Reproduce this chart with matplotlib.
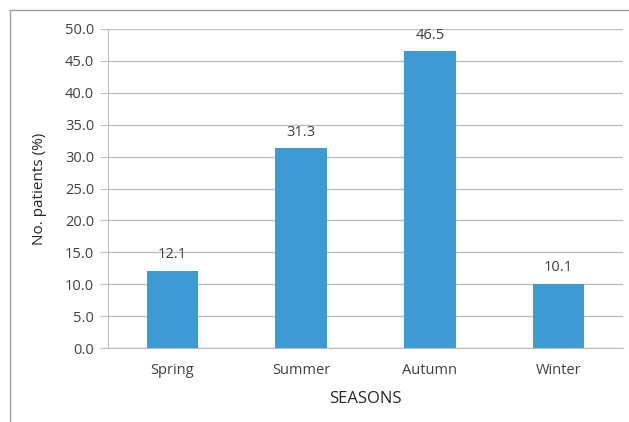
import matplotlib.pyplot as plt
from matplotlib.lines import Line2D

seasons = ['Spring', 'Summer', 'Autumn', 'Winter']
patients = [12.1, 31.3, 46.5, 10.1]
yticks = [0, 5, 10, 15, 20, 25, 30, 35, 40, 45, 50]

plt.rcParams['font.family'] = ['Open Sans', 'DejaVu Sans']

fig = plt.figure(figsize=(6.29, 4.22), dpi=100)
ax = fig.add_axes([108 / 629, 1 - 348 / 422, 515 / 629, 319 / 422])

x = range(len(seasons))
ax.bar(x, patients, width=0.4, color='#3c9bd2', zorder=3)
for xi, v in zip(x, patients):
    ax.text(xi, v + 2.5, f'{v:.1f}', ha='center', va='center',
            fontsize=10.5, color='#404040', zorder=4)

ax.set_xlim(-0.5, 3.5)
ax.set_ylim(0, 50)
ax.set_yticks(yticks)
ax.set_yticklabels([f'{t:.1f}' for t in yticks])
ax.set_xticks(list(x))
ax.set_xticklabels(seasons)
ax.grid(axis='y', color='#bfbfbf', lw=1, zorder=0)
ax.tick_params(axis='y', length=6, color='#bfbfbf', labelsize=10.5,
               labelcolor='#404040', pad=4)
ax.tick_params(axis='x', length=0, labelsize=10.5, labelcolor='#404040', pad=11)

for side in ['top', 'right']:
    ax.spines[side].set_visible(False)
ax.spines['left'].set_color('#bfbfbf')
ax.spines['bottom'].set_color('#bfbfbf')

ax.set_ylabel('No. patients (%)', fontsize=11, color='#262626', labelpad=13)
ax.set_xlabel('SEASONS', fontsize=12, color='#262626', labelpad=9)

# outer frame (top and left edges only)
fig.add_artist(Line2D([10 / 629, 1], [1 - 10 / 422] * 2, color='#a0a0a0', lw=1))
fig.add_artist(Line2D([10 / 629] * 2, [0, 1 - 10 / 422], color='#a0a0a0', lw=1))

fig.savefig('out.png', dpi=100)
